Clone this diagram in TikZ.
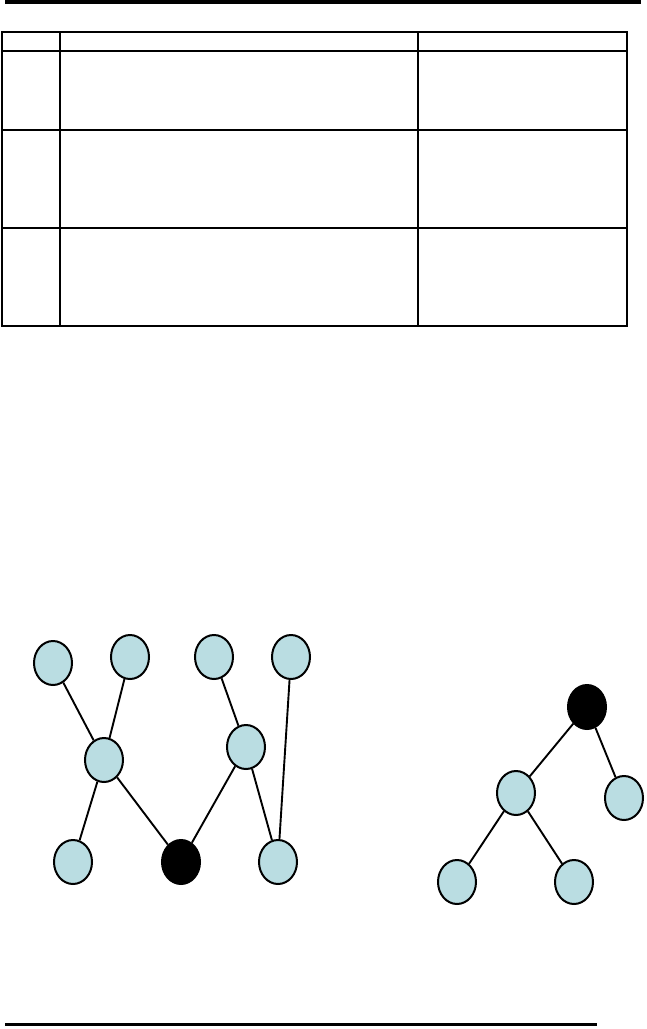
\documentclass[tikz,border=0pt]{standalone}
\usepackage{tikz}
\usetikzlibrary{shapes.geometric}
\definecolor{nodeblue}{RGB}{186,221,226}
\begin{document}
\begin{tikzpicture}[x=1pt, y=-1pt,
                vtx/.style={ellipse, draw=black, line width=2pt, fill=nodeblue, minimum width=38pt, minimum height=44pt, inner sep=0pt},
                root/.style={vtx, fill=black},
                edge/.style={line width=1.9pt},
                grid/.style={line width=1.8pt}]
                \useasboundingbox (0,0) rectangle (646,1029);
                \draw[line width=4pt] (5,2) -- (641,2);
                \draw[grid] (2,32) rectangle (627,326);
                \draw[grid] (2,51) -- (627,51) (2,130) -- (627,130) (2,228) -- (627,228);
                \draw[grid] (60,32) -- (60,326) (418,32) -- (418,326);
                \node[vtx] (a1) at (53,663) {};
                \node[vtx] (a2) at (130,657) {};
                \node[vtx] (a3) at (214,657) {};
                \node[vtx] (a4) at (291,657) {};
                \node[vtx] (b1) at (104,760) {};
                \node[vtx] (b2) at (246,747) {};
                \node[vtx] (c1) at (73,862) {};
                \node[root] (c2) at (181,862) {};
                \node[vtx] (c3) at (278,862) {};
                \draw[edge] (a1) -- (b1) (a2) -- (b1) (b1) -- (c1) (b1) -- (c2);
                \draw[edge] (a3) -- (b2) (b2) -- (c2) (b2) -- (c3) (a4) -- (c3);
                \node[root] (r) at (587,707) {};
                \node[vtx] (r1) at (516,793) {};
                \node[vtx] (r2) at (624,798) {};
                \node[vtx] (r11) at (457,882) {};
                \node[vtx] (r12) at (574,882) {};
                \draw[edge] (r) -- (r1) (r) -- (r2) (r1) -- (r11) (r1) -- (r12);
                \draw[line width=3pt] (5,1024) -- (597,1024);
            \end{tikzpicture}
\end{document}
